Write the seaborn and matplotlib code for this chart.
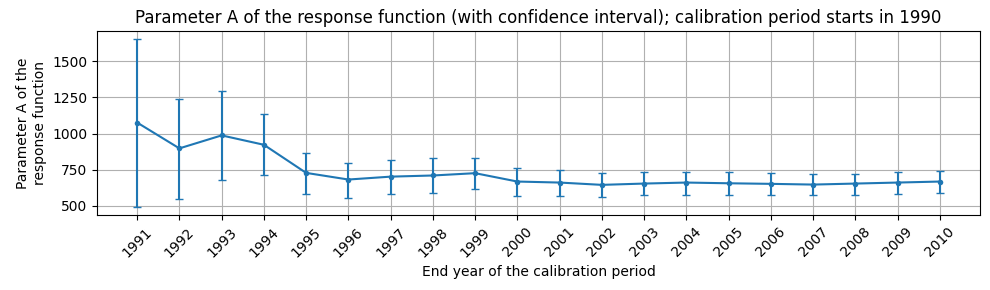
import matplotlib
matplotlib.use("Agg")
import matplotlib.pyplot as plt
import seaborn as sns
import numpy as np
import pandas as pd

years = list(range(1991, 2011))
param_a = [1076, 897, 987, 922, 727, 681, 701, 709, 725, 667, 660, 644, 653, 660, 655, 651, 646, 653, 660, 667]
ci_lower = [493, 547, 679, 709, 583, 556, 583, 590, 616, 567, 567, 560, 574, 577, 577, 577, 577, 577, 583, 590]
ci_upper = [1653, 1236, 1293, 1138, 867, 797, 818, 827, 832, 762, 748, 723, 730, 735, 735, 728, 721, 721, 735, 741]

df = pd.DataFrame({"year": years, "A": param_a, "lo": ci_lower, "hi": ci_upper})

fig, ax = plt.subplots(figsize=(9.9, 2.9), dpi=100)
color = "#1f77b4"
yerr = np.array([df["A"] - df["lo"], df["hi"] - df["A"]])
ax.errorbar(df["year"], df["A"], yerr=yerr, fmt="none", ecolor=color, capsize=3, elinewidth=1.5)
sns.lineplot(data=df, x="year", y="A", ax=ax, color=color, marker="o", markersize=4,
             markeredgewidth=0, linewidth=1.5)
ax.set_xticks(years)
ax.set_xticklabels([str(y) for y in years], rotation=45)
ax.grid(True, color="#b0b0b0", linewidth=0.8)
ax.set_axisbelow(True)
ax.set_xlabel("End year of the calibration period")
ax.set_ylabel("Parameter A of the\nresponse function")
ax.set_title("Parameter A of the response function (with confidence interval); calibration period starts in 1990")
fig.subplots_adjust(left=97/990, right=980/990, top=1 - 31/290, bottom=1 - 215/290)
fig.savefig("out.png", dpi=100)
